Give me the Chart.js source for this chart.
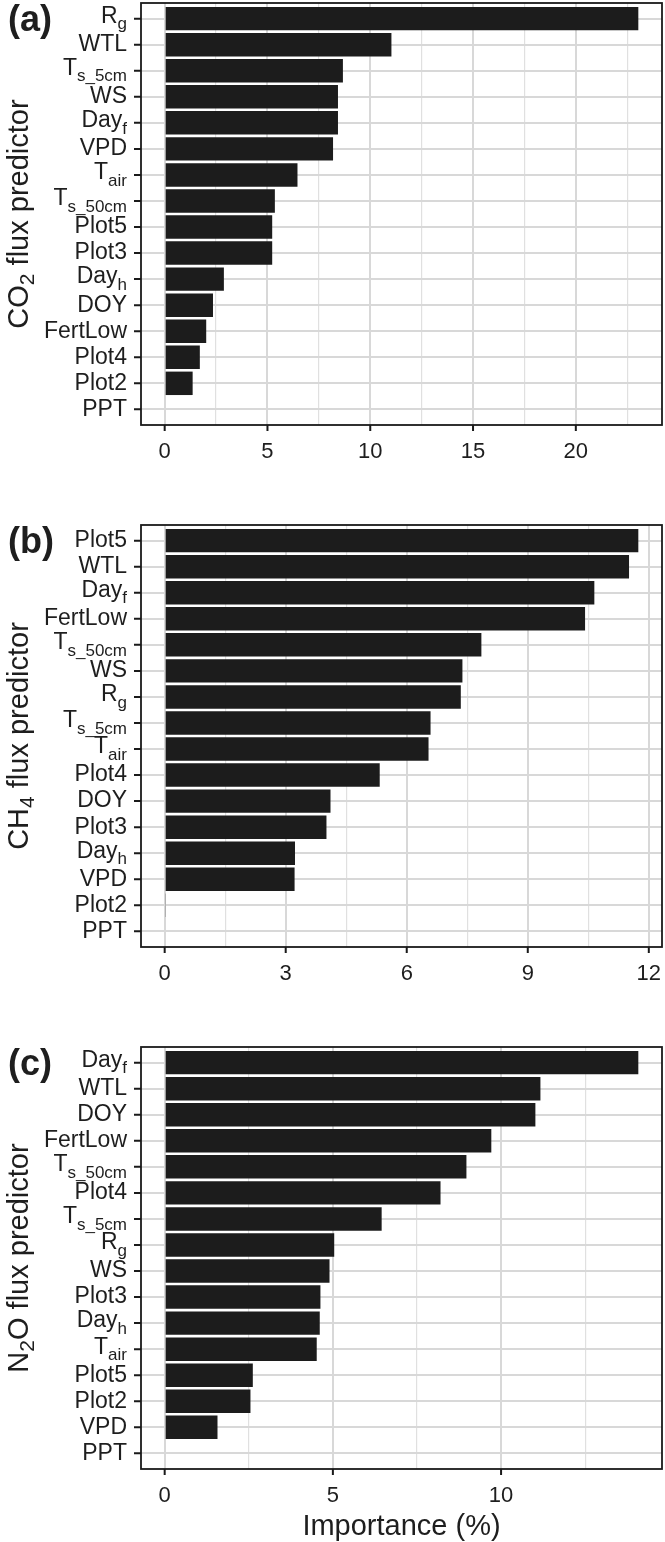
<!DOCTYPE html>
<html>
<head>
<meta charset="utf-8">
<script src="https://cdn.jsdelivr.net/npm/chart.js@4.4.0/dist/chart.umd.min.js"></script>
<style>
body { margin: 0; background: #fff; }
#wrap { position: relative; width: 665px; height: 1542px; }
canvas { position: absolute; left: 0; }
</style>
</head>
<body>
<div id="wrap">
<canvas id="chartA" width="665" height="500" style="top:0px"></canvas>
<canvas id="chartB" width="665" height="520" style="top:500px"></canvas>
<canvas id="chartC" width="665" height="522" style="top:1020px"></canvas>
</div>
<script>
/* 데이터 (a) CO2 */
var co2Labels = ["R_g", "WTL", "T_s_5cm", "WS", "Day_f", "VPD", "T_air", "T_s_50cm", "Plot5", "Plot3", "Day_h", "DOY", "FertLow", "Plot4", "Plot2", "PPT"];
var co2Values = [23.04, 11.03, 8.67, 8.43, 8.43, 8.19, 6.46, 5.36, 5.23, 5.23, 2.88, 2.35, 2.02, 1.71, 1.36, 0];
var co2Ticks = [0, 5, 10, 15, 20];

/* 데이터 (b) CH4 */
var ch4Labels = ["Plot5", "WTL", "Day_f", "FertLow", "T_s_50cm", "WS", "R_g", "T_s_5cm", "T_air", "Plot4", "DOY", "Plot3", "Day_h", "VPD", "Plot2", "PPT"];
var ch4Values = [11.74, 11.51, 10.65, 10.42, 7.85, 7.38, 7.34, 6.59, 6.54, 5.33, 4.11, 4.01, 3.23, 3.22, 0.03, 0];
var ch4Ticks = [0, 3, 6, 9, 12];

/* 데이터 (c) N2O */
var n2oLabels = ["Day_f", "WTL", "DOY", "FertLow", "T_s_50cm", "Plot4", "T_s_5cm", "R_g", "WS", "Plot3", "Day_h", "T_air", "Plot5", "Plot2", "VPD", "PPT"];
var n2oValues = [14.08, 11.17, 11.02, 9.71, 8.97, 8.2, 6.45, 5.04, 4.9, 4.63, 4.61, 4.52, 2.62, 2.55, 1.57, 0];
var n2oTicks = [0, 5, 10];

var FONT = '"Liberation Sans", Arial, Helvetica, sans-serif';
var TEXT = '#1e1e1e';

/* 아래첨자 있는 글자 그리기 */
function drawSub(ctx, main, sub, rest, x, y, size, subSize, drop) {
    ctx.font = size + 'px ' + FONT;
    ctx.fillText(main, x, y);
    x += ctx.measureText(main).width;
    if (sub) {
        ctx.font = subSize + 'px ' + FONT;
        ctx.fillText(sub, x, y + drop);
        x += ctx.measureText(sub).width;
    }
    if (rest) {
        ctx.font = size + 'px ' + FONT;
        ctx.fillText(rest, x, y);
    }
}

function subWidth(ctx, main, sub, rest, size, subSize) {
    ctx.font = size + 'px ' + FONT;
    var w = ctx.measureText(main).width + (rest ? ctx.measureText(rest).width : 0);
    ctx.font = subSize + 'px ' + FONT;
    if (sub) w += ctx.measureText(sub).width;
    return w;
}

var panelDeco = {
    id: 'panelDeco',
    afterDraw: function(chart, args, opts) {
        var ctx = chart.ctx;
        var area = chart.chartArea;
        var yScale = chart.scales.y;
        var xScale = chart.scales.x;
        ctx.save();

        /* 눈금 표시 */
        ctx.strokeStyle = '#1a1a1a';
        ctx.lineWidth = 2;
        ctx.beginPath();
        opts.labels.forEach(function(lab, i) {
            var y = yScale.getPixelForValue(i);
            ctx.moveTo(area.left - 7, y);
            ctx.lineTo(area.left, y);
        });
        opts.majors.forEach(function(v) {
            var x = xScale.getPixelForValue(v);
            ctx.moveTo(x, area.bottom);
            ctx.lineTo(x, area.bottom + 6);
        });
        ctx.stroke();

        ctx.fillStyle = TEXT;
        ctx.textBaseline = 'middle';
        ctx.textAlign = 'left';

        /* 세로축 라벨 */
        opts.labels.forEach(function(lab, i) {
            var parts = lab.split('_');
            var main = parts[0];
            var sub = parts.slice(1).join('_');
            var y = yScale.getPixelForValue(i);
            var w = subWidth(ctx, main, sub, '', 23, 17);
            drawSub(ctx, main, sub, '', 127 - w, y - (sub ? 2 : 0), 23, 17, 8);
        });

        /* 테두리 */
        ctx.strokeStyle = '#1a1a1a';
        ctx.lineWidth = 1.8;
        ctx.strokeRect(area.left, area.top, area.right - area.left, area.bottom - area.top);

        /* 패널 글자 */
        ctx.font = 'bold 36px ' + FONT;
        ctx.fillText(opts.tag, 8, yScale.getPixelForValue(0) + 2);

        /* 축 제목 */
        var t = opts.title;
        var tw = subWidth(ctx, t[0], t[1], t[2], 29, 21);
        ctx.translate(20, (area.top + area.bottom) / 2);
        ctx.rotate(-Math.PI / 2);
        drawSub(ctx, t[0], t[1], t[2], -tw / 2, 0, 29, 21, 8);
        ctx.restore();

        if (opts.xTitle) {
            ctx.save();
            ctx.fillStyle = TEXT;
            ctx.textAlign = 'center';
            ctx.textBaseline = 'middle';
            ctx.font = '29px ' + FONT;
            ctx.fillText(opts.xTitle, (area.left + area.right) / 2, 507);
            ctx.restore();
        }
    }
};

function makeChart(id, labels, values, majors, step, padTop, canvasH, tag, title, xTitle) {
    var maxV = Math.max.apply(null, values);
    var allTicks = [];
    for (var v = 0; v <= maxV * 1.05 + 1e-9; v += step) allTicks.push(Math.round(v * 100) / 100);
    var isMajor = function(v) { return majors.indexOf(v) >= 0; };

    var points = values.map(function(v, i) { return { x: v, y: i }; });

    var ctx = document.getElementById(id).getContext('2d');
    return new Chart(ctx, {
        type: 'bar',
        data: {
            datasets: [{
                data: points,
                backgroundColor: '#1c1c1c',
                borderWidth: 0,
                barPercentage: 0.9,
                categoryPercentage: 1
            }]
        },
        plugins: [panelDeco],
        options: {
            indexAxis: 'y',
            responsive: false,
            animation: false,
            layout: { padding: { top: padTop, right: 3, left: 0, bottom: 0 } },
            plugins: {
                legend: { display: false },
                tooltip: { enabled: false },
                panelDeco: { labels: labels, majors: majors, tag: tag, title: title, xTitle: xTitle }
            },
            scales: {
                x: {
                    type: 'linear',
                    min: -0.05 * maxV,
                    max: 1.05 * maxV,
                    afterBuildTicks: function(s) {
                        s.ticks = allTicks.map(function(v) { return { value: v }; });
                    },
                    afterFit: function(s) {
                        s.height = canvasH - padTop - 422;
                        s.paddingLeft = 0;
                        s.paddingRight = 0;
                    },
                    border: { display: false },
                    grid: {
                        color: function(c) { return isMajor(c.tick.value) ? '#d8d8d8' : '#e0e0e0'; },
                        lineWidth: function(c) { return isMajor(c.tick.value) ? 2 : 1.2; },
                        drawTicks: false
                    },
                    ticks: {
                        autoSkip: false,
                        maxRotation: 0,
                        padding: 14,
                        color: TEXT,
                        font: { family: FONT, size: 22 },
                        callback: function(v) { return isMajor(v) ? String(v) : ''; }
                    }
                },
                y: {
                    type: 'linear',
                    reverse: true,
                    offset: false,
                    min: -0.6,
                    max: labels.length - 1 + 0.6,
                    afterBuildTicks: function(s) {
                        s.ticks = labels.map(function(l, i) { return { value: i }; });
                    },
                    afterFit: function(s) {
                        s.width = 141;
                        s.paddingTop = 0;
                        s.paddingBottom = 0;
                    },
                    border: { display: false },
                    grid: {
                        offset: false,
                        color: '#d8d8d8',
                        lineWidth: 2,
                        drawTicks: false
                    },
                    ticks: { display: false }
                }
            }
        }
    });
}

makeChart('chartA', co2Labels, co2Values, co2Ticks, 2.5, 3, 500, '(a)', ['CO', '2', ' flux predictor'], null);
makeChart('chartB', ch4Labels, ch4Values, ch4Ticks, 1.5, 25, 520, '(b)', ['CH', '4', ' flux predictor'], null);
makeChart('chartC', n2oLabels, n2oValues, n2oTicks, 2.5, 27, 522, '(c)', ['N', '2', 'O flux predictor'], 'Importance (%)');
</script>
</body>
</html>
